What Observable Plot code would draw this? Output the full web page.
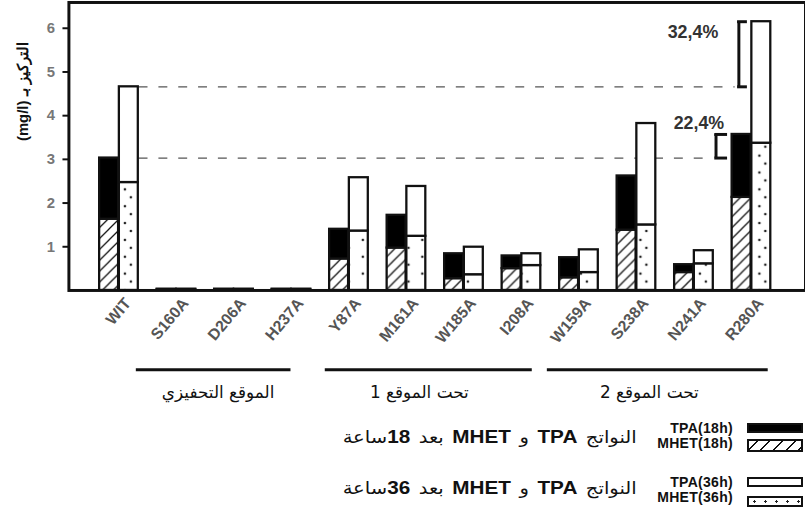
<!DOCTYPE html>
<html><head><meta charset="utf-8">
<script src="https://cdn.jsdelivr.net/npm/d3@7"></script>
<script src="https://cdn.jsdelivr.net/npm/@observablehq/plot@0.6"></script>
<style>
html,body{margin:0;padding:0;background:#fff;overflow:hidden;}
#wrap{position:relative;width:805px;height:510px;overflow:hidden;font-family:"Liberation Sans",Arial,sans-serif;}
#chart{position:absolute;left:0;top:0;}
.lg{position:absolute;line-height:14px;white-space:nowrap;color:#111;}
.lab{font-size:14px;font-weight:bold;text-align:right;letter-spacing:0.3px;}
.ar{font-size:17px;line-height:18px;direction:rtl;text-align:right;font-family:"DejaVu Sans","Liberation Sans",sans-serif;word-spacing:2px;transform:scaleX(1.15);transform-origin:right center;}
.ar b{font-family:"Liberation Sans",Arial,sans-serif;font-size:18px;}
.sw{position:absolute;box-sizing:border-box;border:2px solid #111;width:56px;}
</style></head><body><div id="wrap"><div id="chart"></div><div id="legend"></div></div>
<script>
// ---- data ----
const mutants = ["WIT","S160A","D206A","H237A","Y87A","M161A","W185A","I208A","W159A","S238A","N241A","R280A"];
const mhet18 = [1.63,0.015,0.015,0.015,0.72,0.97,0.27,0.50,0.29,1.38,0.41,2.13];
const tpa18  = [1.40,0.015,0.015,0.015,0.68,0.75,0.57,0.29,0.46,1.24,0.18,1.44];
const mhet36 = [2.47,0.015,0.015,0.015,1.36,1.24,0.36,0.57,0.41,1.50,0.61,3.37];
const tpa36  = [2.19,0.015,0.015,0.015,1.22,1.14,0.63,0.27,0.52,2.32,0.30,2.78];
const groupNames = ["الموقع التحفيزي","تحت الموقع 1","تحت الموقع 2"];
const groupFirst = ["S160A","Y87A","W159A"];
const groupLast  = ["H237A","I208A","R280A"];
const increaseLabels = ["32,4%","22,4%"];
const yTicks = [1,2,3,4,5,6];
const yLabel = "التركيز بـ (mg/l)";
const legendLabels = ["TPA(18h)","MHET(18h)","TPA(36h)","MHET(36h)"];
const legendTexts = [["النواتج ","TPA"," و ","MHET"," بعد ","18","ساعة"],["النواتج ","TPA"," و ","MHET"," بعد ","36","ساعة"]];

const rows = mutants.map((m,i)=>({mutant:m, mhet18:mhet18[i], tot18:mhet18[i]+tpa18[i], mhet36:mhet36[i], tot36:mhet36[i]+tpa36[i]}));
const wit = rows[0], r280 = rows[rows.length-1];

// ---- layout ----
const W = 812, H = 412, mL = 69, mT = 2, mB = 119.5;
const xInL = 19, xInR = 22;
const step = (W - mL - xInL - xInR) / mutants.length;
const bw = step * 0.68, half = bw / 2;
const barStroke = {stroke:"#111", strokeWidth:2.3};

function groupMarks(k, insL, insR, anchor, dx) {
  return [
    Plot.ruleY([0], {x1: () => groupFirst[k], x2: () => groupLast[k], dy: 80, stroke:"#111", strokeWidth:3.2, insetLeft: insL, insetRight: insR}),
    Plot.text([groupNames[k]], {x: () => anchor, y: () => 0, text: d => d, dy: 103, dx, fontSize: 17, fill:"#111", fontFamily:"DejaVu Sans, sans-serif"})
  ];
}

const chart = Plot.plot({
  width: W, height: H,
  marginLeft: mL, marginRight: 0, marginTop: mT, marginBottom: mB,
  style: {fontFamily: "Liberation Sans, Arial, sans-serif", background: "#fff"},
  x: {type: "band", domain: mutants, paddingInner: 0.32, paddingOuter: 0.16, insetLeft: xInL, insetRight: xInR, axis: null},
  y: {domain: [0, 6.59], axis: null},
  marks: [
    Plot.ruleY([wit.tot36], {x1: () => "WIT", x2: () => "R280A", insetLeft: bw, insetRight: 36, stroke:"#555", strokeWidth:1.3, strokeDasharray:"9,11"}),
    Plot.ruleY([wit.tot18], {x1: () => "WIT", x2: () => "R280A", insetLeft: bw, insetRight: 66, stroke:"#555", strokeWidth:1.3, strokeDasharray:"9,11"}),
    Plot.barY(rows, {x:"mutant", y1:0, y2:"mhet18", fill:"url(#hatch)", insetRight: half, ...barStroke}),
    Plot.barY(rows, {x:"mutant", y1:"mhet18", y2:"tot18", fill:"#000", insetRight: half, ...barStroke}),
    Plot.barY(rows, {x:"mutant", y1:0, y2:"mhet36", fill:"url(#dots)", insetLeft: half, ...barStroke}),
    Plot.barY(rows, {x:"mutant", y1:"mhet36", y2:"tot36", fill:"#fff", insetLeft: half, ...barStroke}),
    // brackets
    Plot.ruleX([r280], {x: "mutant", y1: "tot36", y2: () => wit.tot36, dx: -12.7, stroke:"#111", strokeWidth:3}),
    Plot.ruleY([r280.tot36, wit.tot36], {x1: () => "R280A", x2: () => "R280A", insetLeft: 5.5, insetRight: 23.6, stroke:"#111", strokeWidth:3}),
    Plot.ruleX([r280], {x: "mutant", y1: "tot18", y2: () => wit.tot18, dx: -35.75, stroke:"#111", strokeWidth:3}),
    Plot.ruleY([r280.tot18, wit.tot18], {x1: () => "R280A", x2: () => "R280A", insetLeft: -17.5, insetRight: 43.6, stroke:"#111", strokeWidth:3}),
    Plot.text([r280], {x:"mutant", y:"tot36", text: () => increaseLabels[0], dx: -59, dy: 11, fontSize: 18, fontWeight:"bold", fill:"#333"}),
    Plot.text([r280], {x:"mutant", y:"tot18", text: () => increaseLabels[1], dx: -53, dy: -11, fontSize: 18, fontWeight:"bold", fill:"#333"}),
    Plot.frame({stroke:"#111", strokeWidth:3}),
    Plot.axisY({ticks: yTicks, tickFormat: d => String(d), tickSize: 6, tickPadding: 8, fontSize: 15, fontWeight:"bold", fill:"#777", stroke:"#111", strokeWidth:2, label: null}),
    // rotated category labels
    Plot.text(mutants, {x: d => d, frameAnchor: "bottom", text: d => d, rotate: -50, textAnchor: "end", lineAnchor: "middle", dx: 9, dy: 10, fontSize: 16, fontWeight:"bold", fill:"#555"}),
    Plot.text([yLabel], {frameAnchor: "top-left", text: d => "\u202B" + d + "\u202C", rotate: -90, textAnchor: "middle", lineAnchor: "middle", dx: -46, dy: 90, fontSize: 15, fontWeight: "bold", fill:"#111"}),
    ...groupMarks(0, -21, 20, "D206A", -16),
    ...groupMarks(1, -4.4, 8.6, "M161A", 13),
    ...groupMarks(2, -12.4, 2.6, "S238A", 13)
  ]
});

d3.select(chart).insert("defs", ":first-child").html(`
  <pattern id="hatch" patternUnits="userSpaceOnUse" width="11" height="11">
    <rect width="11" height="11" fill="#fff"/>
    <path d="M-1,1 l2,-2 M0,11 l11,-11 M10,12 l2,-2" stroke="#111" stroke-width="1.3"/>
  </pattern>
  <pattern id="dots" patternUnits="userSpaceOnUse" width="20" height="17">
    <rect width="20" height="17" fill="#fff"/>
    <circle cx="6" cy="4" r="1.3" fill="#222"/>
    <circle cx="12" cy="12" r="1.3" fill="#222"/>
  </pattern>`);
document.getElementById("chart").appendChild(chart);

// ---- legend ----
const lg = document.getElementById("legend");
function add(cls, css, html) { const d = document.createElement("div"); d.className = cls; d.style.cssText = css; d.innerHTML = html; lg.appendChild(d); }
add("sw", "left:747px;top:423px;height:10px;background:#000;", "");
add("sw", "left:747px;top:439px;height:13px;background:repeating-linear-gradient(135deg,#fff 0 5px,#111 5px 6.4px,#fff 6.4px 9px);", "");
add("sw", "left:747px;top:477px;height:10px;background:#fff;", "");
add("sw", "left:747px;top:496px;height:11px;background:radial-gradient(circle,#222 0 1.1px,transparent 1.4px) 0 0/11px 7px,#fff;", "");
const ly = [428, 443, 482, 497];
legendLabels.forEach((t,i) => add("lg lab", `right:72px;top:${ly[i]-7}px;`, t));
const ay = [437, 488];
legendTexts.forEach((parts,i) => add("lg ar", `right:168px;top:${ay[i]-9}px;`, parts.map((p,j) => (j%2===1) ? `<b>${p}</b>` : p).join("")));
</script></body></html>
